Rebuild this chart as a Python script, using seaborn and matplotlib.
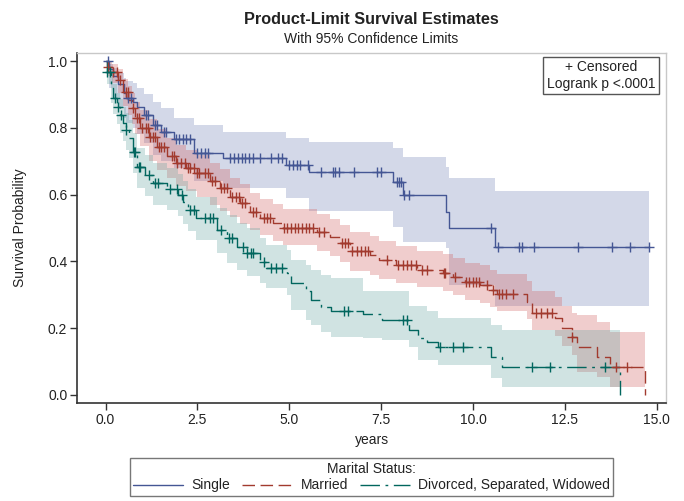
import numpy as np
import pandas as pd
import matplotlib
matplotlib.use("Agg")
import matplotlib.pyplot as plt
from matplotlib.lines import Line2D
import seaborn as sns

# ── Data ──────────────────────────────────────────────────────────────────────
GROUPS = ["Single", "Married", "Divorced, Separated, Widowed"]

SINGLE_T = [0.0, 0.1, 0.2, 0.35, 0.5, 0.57, 0.74, 0.87, 1.06, 1.28, 1.52, 1.85, 2.42,
            3.2, 4.9, 5.55, 7.82, 8.09, 9.26, 9.34, 10.59, 14.78]
SINGLE_S = [1.0, 0.975, 0.955, 0.93, 0.905, 0.89, 0.877, 0.862, 0.838, 0.808, 0.787, 0.766,
            0.725, 0.71, 0.689, 0.668, 0.638, 0.599, 0.548, 0.50, 0.443, 0.443]
SINGLE_LO = [1.0, 0.92, 0.89, 0.86, 0.83, 0.815, 0.80, 0.78, 0.755, 0.72, 0.70, 0.68, 0.64,
             0.62, 0.59, 0.55, 0.503, 0.458, 0.439, 0.33, 0.265, 0.265]
SINGLE_HI = [1.0, 0.99, 0.98, 0.965, 0.95, 0.94, 0.935, 0.92, 0.90, 0.877, 0.86, 0.83, 0.808,
             0.787, 0.77, 0.757, 0.74, 0.713, 0.683, 0.65, 0.61, 0.61]
SINGLE_CENS = [0.08, 0.62, 0.7, 1.1, 1.15, 1.35, 1.4, 1.6, 1.65, 1.93, 2.0, 2.1, 2.2, 2.3,
               2.5, 2.6, 2.7, 2.8, 3.4, 3.5, 3.6, 3.7, 3.8, 3.9, 4.0, 4.2, 4.5, 4.7, 4.8,
               5.0, 5.1, 5.2, 5.3, 5.5, 5.85, 6.2, 6.25, 6.35, 6.75, 7.4, 7.5, 7.92, 7.99,
               8.05, 8.12, 8.26, 10.5, 10.67, 11.25, 11.33, 11.65, 12.85, 13.78, 14.27, 14.78]

MARRIED_T = [0.0, 0.04, 0.17, 0.35, 0.48, 0.62, 0.72, 0.8, 0.94, 1.17, 1.39, 1.66, 1.93,
             2.2, 2.48, 2.84, 3.12, 3.39, 3.66, 3.93, 4.2, 4.56, 4.84, 5.75, 6.11, 6.38,
             6.65, 7.2, 7.45, 7.9, 8.47, 9.19, 9.46, 9.78, 10.19, 10.46, 10.64, 11.46,
             11.6, 12.22, 12.43, 12.69, 12.84, 13.36, 13.73, 14.67]
MARRIED_S = [1.0, 0.982, 0.967, 0.943, 0.907, 0.883, 0.86, 0.83, 0.80, 0.772, 0.743, 0.715,
             0.695, 0.68, 0.665, 0.64, 0.62, 0.593, 0.575, 0.548, 0.53, 0.515, 0.50, 0.488,
             0.473, 0.455, 0.43, 0.42, 0.404, 0.39, 0.374, 0.365, 0.353, 0.338, 0.33, 0.314,
             0.302, 0.279, 0.246, 0.23, 0.20, 0.174, 0.144, 0.114, 0.084, 0.0]
MARRIED_LO = [1.0, 0.955, 0.935, 0.905, 0.865, 0.838, 0.812, 0.78, 0.745, 0.70, 0.675, 0.65,
              0.625, 0.61, 0.592, 0.568, 0.55, 0.532, 0.512, 0.494, 0.478, 0.46, 0.448, 0.43,
              0.415, 0.398, 0.372, 0.36, 0.348, 0.335, 0.322, 0.31, 0.298, 0.285, 0.275,
              0.262, 0.25, 0.228, 0.195, 0.178, 0.148, 0.12, 0.069, 0.054, 0.024, 0.0]
MARRIED_HI = [1.0, 0.997, 0.99, 0.975, 0.945, 0.925, 0.905, 0.878, 0.852, 0.825, 0.797, 0.77,
              0.75, 0.735, 0.72, 0.696, 0.676, 0.65, 0.632, 0.605, 0.587, 0.572, 0.556, 0.543,
              0.528, 0.51, 0.487, 0.477, 0.462, 0.447, 0.432, 0.423, 0.41, 0.396, 0.388,
              0.373, 0.362, 0.34, 0.31, 0.293, 0.265, 0.245, 0.24, 0.22, 0.19, 0.0]
MARRIED_CENS = [0.08, 0.2, 0.3, 0.4, 0.55, 0.6, 0.75, 0.85, 0.9, 1.0, 1.1, 1.15, 1.2, 1.3,
                1.35, 1.45, 1.5, 1.6, 1.8, 1.85, 1.95, 2.05, 2.15, 2.25, 2.3, 2.4, 2.5, 2.55,
                2.7, 2.8, 2.9, 2.98, 3.15, 3.22, 3.3, 3.45, 3.55, 3.62, 3.72, 3.8, 4.0, 4.1,
                4.3, 4.4, 4.48, 4.85, 4.95, 5.05, 5.15, 5.25, 5.35, 5.45, 5.55, 5.65, 5.8,
                5.95, 6.43, 6.52, 6.6, 6.7, 6.85, 6.95, 7.05, 7.15, 7.65, 7.95, 8.1, 8.2, 8.3,
                8.45, 8.6, 8.75, 9.2, 9.25, 9.5, 9.8, 9.9, 10.0, 10.08, 10.15, 10.37, 10.55,
                10.7, 10.8, 10.9, 11.1, 11.7, 11.85, 12.0, 12.15, 12.7, 13.9, 14.2]

DIVORCED_T = [0.0, 0.03, 0.15, 0.2, 0.3, 0.39, 0.48, 0.55, 0.65, 0.75, 0.85, 1.08, 1.3, 1.66,
              1.98, 2.1, 2.25, 2.45, 3.03, 3.3, 3.57, 3.84, 4.2, 4.38, 4.93, 5.05, 5.45, 5.6,
              5.87, 6.13, 7.0, 7.53, 8.25, 8.5, 8.75, 9.05, 10.5, 10.8, 14.0]
DIVORCED_S = [1.0, 0.967, 0.92, 0.89, 0.862, 0.838, 0.814, 0.793, 0.77, 0.728, 0.683, 0.659,
              0.635, 0.618, 0.60, 0.578, 0.554, 0.53, 0.494, 0.47, 0.443, 0.425, 0.398, 0.38,
              0.365, 0.335, 0.31, 0.284, 0.264, 0.252, 0.243, 0.225, 0.195, 0.171, 0.16,
              0.144, 0.114, 0.084, 0.0]
DIVORCED_LO = [1.0, 0.93, 0.875, 0.84, 0.81, 0.785, 0.76, 0.735, 0.71, 0.665, 0.62, 0.595,
               0.57, 0.553, 0.535, 0.513, 0.49, 0.465, 0.425, 0.395, 0.374, 0.355, 0.335,
               0.32, 0.30, 0.254, 0.225, 0.21, 0.19, 0.174, 0.171, 0.165, 0.144, 0.105,
               0.105, 0.09, 0.05, 0.024, 0.0]
DIVORCED_HI = [1.0, 0.99, 0.955, 0.93, 0.905, 0.885, 0.862, 0.843, 0.822, 0.783, 0.74, 0.718,
               0.695, 0.68, 0.662, 0.64, 0.617, 0.594, 0.56, 0.54, 0.515, 0.50, 0.47, 0.45,
               0.434, 0.404, 0.39, 0.375, 0.36, 0.35, 0.31, 0.31, 0.265, 0.265, 0.25, 0.23,
               0.21, 0.195, 0.0]
DIVORCED_CENS = [0.05, 0.12, 0.25, 0.34, 0.42, 0.57, 0.78, 0.8, 0.9, 0.95, 1.17, 1.35, 1.42,
                 1.76, 1.94, 2.07, 2.3, 2.4, 2.7, 2.84, 2.93, 3.15, 3.35, 3.44, 3.75, 3.85,
                 3.95, 4.02, 4.3, 4.5, 4.65, 4.8, 6.5, 6.6, 8.1, 8.2, 9.1, 9.45, 9.72, 11.6,
                 12.1, 13.6]

X_TICKS = [0.0, 2.5, 5.0, 7.5, 10.0, 12.5, 15.0]
Y_TICKS = [0.0, 0.2, 0.4, 0.6, 0.8, 1.0]

# ── Style ─────────────────────────────────────────────────────────────────────
LINE_COLORS = {"Single": "#445694", "Married": "#A23A2E",
               "Divorced, Separated, Widowed": "#01665E"}
BAND_COLORS = {"Single": "#6F7EB3", "Married": "#D05B5B",
               "Divorced, Separated, Widowed": "#66A5A0"}
DASHES = {"Single": "", "Married": (9, 4), "Divorced, Separated, Widowed": (14, 4, 2, 4)}
TEXT = "#222222"
AX_CX = 371.5 / 684       # horizontal centre of the plot area (figure fraction)

sns.set_theme(style="white")
plt.rcParams["font.family"] = ["Liberation Sans", "DejaVu Sans"]
plt.rcParams["text.color"] = TEXT

curves = {
    "Single": (SINGLE_T, SINGLE_S, SINGLE_LO, SINGLE_HI, SINGLE_CENS),
    "Married": (MARRIED_T, MARRIED_S, MARRIED_LO, MARRIED_HI, MARRIED_CENS),
    "Divorced, Separated, Widowed": (DIVORCED_T, DIVORCED_S, DIVORCED_LO, DIVORCED_HI,
                                     DIVORCED_CENS),
}

df = pd.concat([pd.DataFrame({"years": t, "surv": s, "group": g})
                for g, (t, s, lo, hi, c) in curves.items()], ignore_index=True)

fig = plt.figure(figsize=(6.84, 5.01), dpi=100)
ax = fig.add_axes([77 / 684, 98 / 501, 589 / 684, 350 / 501])

# confidence bands
for g, (t, s, lo, hi, c) in curves.items():
    ax.fill_between(t, lo, hi, step="post", color=BAND_COLORS[g], alpha=0.3, linewidth=0)

# step curves
sns.lineplot(data=df, x="years", y="surv", hue="group", style="group",
             hue_order=GROUPS, style_order=GROUPS, palette=LINE_COLORS, dashes=DASHES,
             drawstyle="steps-post", estimator=None, linewidth=1.0, legend=False, ax=ax)

# censored marks sit on the curve at their time
for g, (t, s, lo, hi, c) in curves.items():
    t_arr, s_arr = np.asarray(t), np.asarray(s)
    idx = np.searchsorted(t_arr, c, side="right") - 1
    ax.plot(c, s_arr[idx], linestyle="none", marker="+", markersize=7,
            markeredgewidth=1.0, color=LINE_COLORS[g])

ax.set_xlim(-0.776, 15.25)
ax.set_ylim(-0.024, 1.024)
ax.set_xticks(X_TICKS)
ax.set_xticklabels([f"{v:.1f}" for v in X_TICKS])
ax.set_yticks(Y_TICKS)
ax.set_yticklabels([f"{v:.1f}" for v in Y_TICKS])
ax.tick_params(axis="both", which="both", direction="out", length=5, width=1,
               color="#333333", labelsize=10, labelcolor=TEXT, pad=2,
               bottom=True, left=True)
ax.set_xlabel("")
ax.set_ylabel("")
for side in ["left", "bottom"]:
    ax.spines[side].set_color("#333333")
    ax.spines[side].set_linewidth(1.2)
for side in ["top", "right"]:
    ax.spines[side].set_color("#c8c8c8")
    ax.spines[side].set_linewidth(1.0)

# inset box
ax.text(0.8896, 0.9357, "+ Censored\nLogrank p <.0001", transform=ax.transAxes,
        ha="center", va="center", multialignment="center", fontsize=10,
        linespacing=1.2,
        bbox=dict(boxstyle="square,pad=0.25", facecolor="white", edgecolor="#555555",
                  linewidth=1.0))

# titles and axis labels
fig.text(AX_CX, 1 - 20 / 501, "Product-Limit Survival Estimates",
         ha="center", va="center", fontsize=11.7, fontweight="bold")
fig.text(AX_CX, 1 - 39 / 501, "With 95% Confidence Limits",
         ha="center", va="center", fontsize=10)
fig.text(20 / 684, 1 - 228 / 501, "Survival Probability", rotation=90,
         ha="center", va="center", fontsize=10)
fig.text(AX_CX, 1 - 440 / 501, "years", ha="center", va="center", fontsize=10)

# legend
handles = [Line2D([], [], color=LINE_COLORS[g], linewidth=1.0,
                  linestyle="-" if DASHES[g] == "" else (0, DASHES[g]))
           for g in GROUPS]
leg = fig.legend(handles, GROUPS, loc="center", bbox_to_anchor=(AX_CX, 1 - 477 / 501),
                 ncol=3, title="Marital Status:", fontsize=10, title_fontsize=10,
                 frameon=True, fancybox=False, edgecolor="#555555", handlelength=3.6,
                 handletextpad=0.6, columnspacing=0.85, borderpad=0.25, labelspacing=0.2,
                 borderaxespad=0)
leg.get_frame().set_linewidth(1.0)

fig.savefig("out.png", dpi=100, facecolor="white")
